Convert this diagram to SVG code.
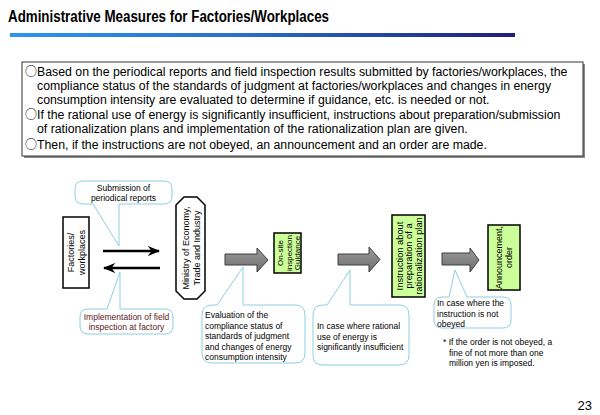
<svg xmlns="http://www.w3.org/2000/svg" width="600" height="415" viewBox="0 0 600 415">
<defs>
<linearGradient id="bar" x1="0" y1="0" x2="1" y2="0">
<stop offset="0" stop-color="#2b95ec"/>
<stop offset="0.45" stop-color="#2a6fd0"/>
<stop offset="1" stop-color="#1f1f7a"/>
</linearGradient>
<linearGradient id="gray" x1="0" y1="0" x2="0" y2="1">
<stop offset="0" stop-color="#9a9a9a"/>
<stop offset="1" stop-color="#6e6e6e"/>
</linearGradient>
<marker id="ah" viewBox="0 0 10 10" refX="9" refY="5" markerWidth="5" markerHeight="5" orient="auto-start-reverse" markerUnits="strokeWidth">
<path d="M0,1 L10,5 L0,9 L3,5 Z" fill="#000"/>
</marker>
<style>
text{font-family:"Liberation Sans",Arial,sans-serif;fill:#000}
.title{font-size:16px;font-weight:bold}
.body{font-size:12.3px}
.circ{font-family:"Noto Sans CJK JP","DejaVu Sans",sans-serif;font-size:12px}
.lbl{font-size:9px}
.sm{font-size:8.5px}
.xs{font-size:8px}
.call{fill:#fff;stroke:#8ccfe0;stroke-width:1}
.box{stroke:#000;stroke-width:1.5}
.green{fill:#ccff99}
.fat{fill:url(#gray);stroke:#3c3c3c;stroke-width:1}
.thin{stroke:#000;stroke-width:2.5;fill:none}
</style>
</defs>
<rect width="600" height="415" fill="#fff"/>
<text class="title" x="8" y="22" textLength="321" lengthAdjust="spacingAndGlyphs">Administrative Measures for Factories/Workplaces</text>
<rect x="10" y="33" width="505" height="4" fill="url(#bar)"/>

<g id="summary">
<rect x="24" y="64" width="561" height="94" fill="#888"/>
<rect x="22" y="62" width="561" height="94" fill="#fff" stroke="#333" stroke-width="1"/>
<text class="body" x="25" y="76"><tspan class="circ">○</tspan>Based on the periodical reports and field inspection results submitted by factories/workplaces, the</text>
<text class="body" x="37" y="90">compliance status of the standards of judgment at factories/workplaces and changes in energy</text>
<text class="body" x="37" y="104">consumption intensity are evaluated to determine if guidance, etc. is needed or not.</text>
<text class="body" x="25" y="119"><tspan class="circ">○</tspan>If the rational use of energy is significantly insufficient, instructions about preparation/submission</text>
<text class="body" x="37" y="133">of rationalization plans and implementation of the rationalization plan are given.</text>
<text class="body" x="25" y="149"><tspan class="circ">○</tspan>Then, if the instructions are not obeyed, an announcement and an order are made.</text>
</g>

<g id="connectors">
<line class="thin" x1="103" y1="251" x2="159" y2="251" marker-end="url(#ah)"/>
<line class="thin" x1="160" y1="268" x2="104" y2="268" marker-end="url(#ah)"/>
<polygon class="fat" points="225,254 257,254 257,248 268,260 257,272 257,265 225,265"/>
<polygon class="fat" points="338,254 369,254 369,247 380,259.5 369,272 369,265 338,265"/>
<polygon class="fat" points="442,253 470,253 470,248 479,260 470,272 470,265 442,265"/>
</g>

<g id="factories">
<rect class="box" x="63" y="217" width="26" height="71" fill="#fff"/>
<text class="lbl" transform="translate(79,252.5) rotate(-90)" text-anchor="middle"><tspan x="0" y="-5">Factories/</tspan><tspan x="0" y="5.5">workplaces</tspan></text>
</g>

<g id="ministry">
<polygon class="box" fill="#fff" points="184,197 197,197 205,205 205,291 197,299 184,299 176,291 176,205"/>
<text class="lbl" transform="translate(194,248) rotate(-90)" text-anchor="middle"><tspan x="0" y="-5">Ministry of Economy,</tspan><tspan x="0" y="5.5">Trade and Industry</tspan></text>
</g>

<g id="onsite">
<rect class="box green" x="274" y="233" width="27" height="40"/>
<text class="xs" transform="translate(290.5,253) rotate(-90)" text-anchor="middle"><tspan x="0" y="-7.5">On-site</tspan><tspan x="0" y="1">inspection</tspan><tspan x="0" y="9.5">Guidance</tspan></text>
</g>

<g id="instruction">
<rect class="box green" x="392" y="215" width="33" height="82"/>
<text class="lbl" transform="translate(411.5,256) rotate(-90)" text-anchor="middle" style="font-size:9.3px"><tspan x="0" y="-9">Instruction about</tspan><tspan x="0" y="0.5">preparation of a</tspan><tspan x="0" y="10">rationalization plan</tspan></text>
</g>

<g id="announcement">
<rect class="box green" x="488" y="225" width="32" height="65"/>
<text class="lbl" transform="translate(507,257.5) rotate(-90)" text-anchor="middle"><tspan x="0" y="-5">Announcement,</tspan><tspan x="0" y="5">order</tspan></text>
</g>

<g id="callout-submission">
<path class="call" d="M83,181 H164 Q172,181 172,189 V196 Q172,204 164,204 H119 L119,246 L93,204 H83 Q75,204 75,196 V189 Q75,181 83,181 Z"/>
<text class="sm" x="123.5" y="191" text-anchor="middle">Submission of</text>
<text class="sm" x="123.5" y="201" text-anchor="middle">periodical reports</text>
</g>

<g id="callout-implementation">
<path class="call" d="M88,309 H107 L120,272 L120,309 H165 Q173,309 173,317 V326 Q173,334 165,334 H88 Q80,334 80,326 V317 Q80,309 88,309 Z"/>
<text class="sm" x="126.5" y="320" text-anchor="middle" style="fill:#5c1a1a">Implementation of field</text>
<text class="sm" x="126.5" y="330" text-anchor="middle" style="fill:#5c1a1a">inspection at factory</text>
</g>

<g id="callout-evaluation">
<path class="call" d="M212,305 H217 L243,267 L243,305 H295 Q305,305 305,315 V353 Q305,363 295,363 H212 Q202,363 202,353 V315 Q202,305 212,305 Z"/>
<text class="sm" x="205" y="318">Evaluation of the</text>
<text class="sm" x="205" y="328.5">compliance status of</text>
<text class="sm" x="205" y="339">standards of judgment</text>
<text class="sm" x="205" y="349.5">and changes of energy</text>
<text class="sm" x="205" y="360">consumption intensity</text>
</g>

<g id="callout-rational">
<path class="call" d="M323,305 H327 L350,270 L350,305 H399 Q409,305 409,315 V355 Q409,365 399,365 H323 Q313,365 313,355 V315 Q313,305 323,305 Z"/>
<text class="sm" x="317" y="329">In case where rational</text>
<text class="sm" x="317" y="339.5">use of energy is</text>
<text class="sm" x="317" y="350">significantly insufficient</text>
</g>

<g id="callout-notobeyed">
<path class="call" d="M442,297 H449 L455,270 L467,297 H503 Q511,297 511,305 V320 Q511,328 503,328 H442 Q434,328 434,320 V305 Q434,297 442,297 Z"/>
<text class="sm" x="437" y="306">In case where the</text>
<text class="sm" x="437" y="316.5">instruction is not</text>
<text class="sm" x="437" y="327">obeyed</text>
</g>

<g id="note">
<text class="sm" x="443" y="345">* If the order is not obeyed, a</text>
<text class="sm" x="449" y="355.5">fine of not more than one</text>
<text class="sm" x="449" y="366">million yen is imposed.</text>
</g>

<text x="592" y="410" text-anchor="end" style="font-size:13px">23</text>
</svg>
